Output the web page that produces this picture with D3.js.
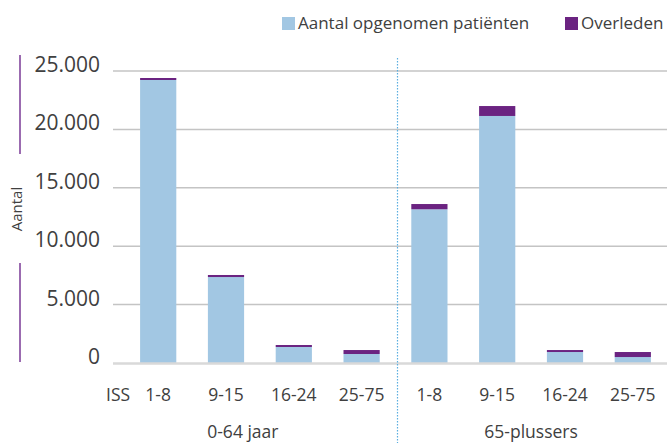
<!DOCTYPE html>
<html>
<head>
<meta charset="utf-8">
<script src="https://cdn.jsdelivr.net/npm/d3@7"></script>
<style>
  html, body { margin: 0; padding: 0; background: #fff; }
  svg { display: block; font-family: "Open Sans", "Noto Sans", sans-serif; }
</style>
</head>
<body>
<svg id="chart" width="667" height="443"></svg>
<script>
// ISS classes per age group
const groups = ["0-64 jaar", "65-plussers"];
const issClasses = ["1-8", "9-15", "16-24", "25-75"];
// Admitted patients (light part of each stack) and deaths (top part)
const opgenomen = [24230, 7360, 1370, 770, 13160, 21150, 940, 510];
const overleden = [170, 175, 170, 340, 450, 850, 170, 430];
const yTicks = [0, 5000, 10000, 15000, 20000, 25000];
const seriesNames = ["Aantal opgenomen patiënten", "Overleden"];
const colors = ["#a2c7e3", "#6b2381"];

const rows = [];
groups.forEach((g, gi) => issClasses.forEach((c, ci) => {
  const i = gi * issClasses.length + ci;
  rows.push({ id: i, group: g, iss: c, opgenomen: opgenomen[i], overleden: overleden[i] });
}));

const nl = d3.formatLocale({ decimal: ",", thousands: ".", grouping: [3], currency: ["€", ""] });
const fmt = nl.format(",");

const svg = d3.select("#chart");
const plotLeft = 113, plotRight = 667;
const textColor = "#404040";
const issLabelX = 106;

const x = d3.scaleBand()
  .domain(rows.map(d => d.id))
  .range([124.3, 666.7])
  .paddingInner(0.466)
  .paddingOuter(0.233);

const y = d3.scaleLinear().domain([0, 25000]).range([363, 71]);

// gridlines
svg.append("g").selectAll("line")
  .data(yTicks.filter(t => t > 0))
  .join("line")
  .attr("x1", plotLeft).attr("x2", plotRight)
  .attr("y1", d => y(d)).attr("y2", d => y(d))
  .attr("stroke", "#c4c4c4").attr("stroke-width", 1.5);

// y tick labels, baseline on the gridline
svg.append("g").selectAll("text")
  .data(yTicks)
  .join("text")
  .attr("x", 100).attr("y", d => y(d) + 1)
  .attr("text-anchor", "end")
  .attr("font-size", 21)
  .attr("fill", textColor)
  .text(d => fmt(d));

// stacked bars
const stack = d3.stack().keys(["opgenomen", "overleden"]);
const stacked = stack(rows);
svg.append("g").selectAll("g")
  .data(stacked)
  .join("g")
  .attr("fill", (d, i) => colors[i])
  .selectAll("rect")
  .data(d => d)
  .join("rect")
  .attr("x", d => x(d.data.id))
  .attr("width", x.bandwidth())
  .attr("y", d => y(d[1]))
  .attr("height", d => y(d[0]) - y(d[1]));

// baseline
svg.append("line")
  .attr("x1", plotLeft).attr("x2", plotRight)
  .attr("y1", y(0) + 0.5).attr("y2", y(0) + 0.5)
  .attr("stroke", "#d9d9d9").attr("stroke-width", 2.5);

// dotted divider between the age groups
const step = x.step();
const divX = x(issClasses.length) - step * x.paddingInner() / 2 + 2;
svg.append("line")
  .attr("x1", divX).attr("x2", divX)
  .attr("y1", 58).attr("y2", 443)
  .attr("stroke", "#5aaee0").attr("stroke-width", 1.2)
  .attr("stroke-dasharray", "1.5,1.5");

// category labels
svg.append("g").selectAll("text")
  .data(rows)
  .join("text")
  .attr("x", d => x(d.id) + x.bandwidth() / 2)
  .attr("y", 401)
  .attr("text-anchor", "middle")
  .attr("font-size", 17.5)
  .attr("fill", textColor)
  .text(d => d.iss);

svg.append("text")
  .attr("x", issLabelX).attr("y", 401)
  .attr("font-size", 17.5).attr("fill", textColor)
  .text("ISS");

// group labels
const bw = x.bandwidth();
const groupCenters = [(issLabelX + x(3) + bw) / 2, (x(4) + x(7) + bw) / 2];
svg.append("g").selectAll("text")
  .data(groups)
  .join("text")
  .attr("x", (d, i) => groupCenters[i])
  .attr("y", 438)
  .attr("text-anchor", "middle")
  .attr("font-size", 17.5)
  .attr("fill", textColor)
  .text(d => d);

// y axis title with split accent line
svg.append("line").attr("x1", 20).attr("x2", 20).attr("y1", 55).attr("y2", 154)
  .attr("stroke", "#9b6bb0").attr("stroke-width", 2);
svg.append("line").attr("x1", 20).attr("x2", 20).attr("y1", 263).attr("y2", 362)
  .attr("stroke", "#9b6bb0").attr("stroke-width", 2);
svg.append("text")
  .attr("transform", "translate(22,209) rotate(-90)")
  .attr("text-anchor", "middle")
  .attr("font-size", 15)
  .attr("fill", textColor)
  .text("Aantal");

// legend
const legendItems = [{ x: 282, name: seriesNames[0], color: colors[0] },
                     { x: 565, name: seriesNames[1], color: colors[1] }];
const lg = svg.append("g").selectAll("g").data(legendItems).join("g")
  .attr("transform", d => `translate(${d.x},17)`);
lg.append("rect").attr("width", 13).attr("height", 13).attr("fill", d => d.color);
lg.append("text").attr("x", 16).attr("y", 12)
  .attr("font-size", 17).attr("fill", textColor)
  .text(d => d.name);
</script>
</body>
</html>
